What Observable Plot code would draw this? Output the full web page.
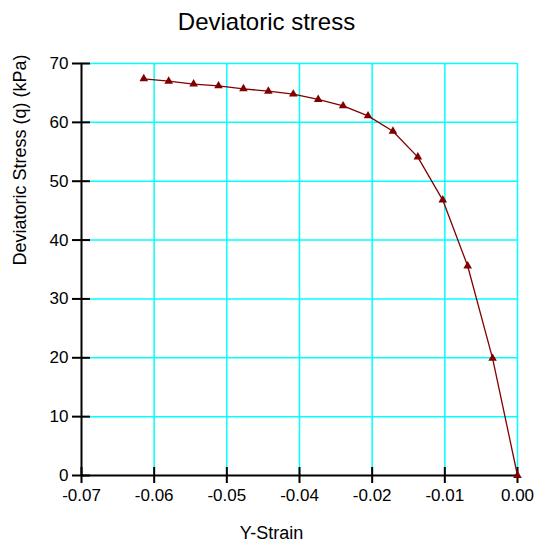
<!DOCTYPE html>
<html><head><meta charset="utf-8">
<script src="https://cdn.jsdelivr.net/npm/d3@7"></script>
<script src="https://cdn.jsdelivr.net/npm/@observablehq/plot@0.6"></script>
<style>body{margin:0;background:#fff;font-family:"Liberation Sans",Arial,sans-serif}</style>
</head><body><div id="chart"></div>
<script>
// Data
const strain = [0, -0.004, -0.008, -0.012, -0.016, -0.020, -0.024, -0.028, -0.032, -0.036, -0.040, -0.044, -0.048, -0.052, -0.056, -0.060];
const stress = [0, 19.9, 35.6, 46.8, 54.1, 58.5, 61.1, 62.8, 63.9, 64.8, 65.3, 65.7, 66.2, 66.5, 67.0, 67.4];
const xTickValues = [-0.07, -0.058333, -0.046667, -0.035, -0.023333, -0.011667, 0];
const xTickLabels = ["-0.07", "-0.06", "-0.05", "-0.04", "-0.02", "-0.01", "0.00"];
const yTickValues = [0, 10, 20, 30, 40, 50, 60, 70];
const yTickLabels = ["0", "10", "20", "30", "40", "50", "60", "70"];
const title = "Deviatoric stress";
const xLabel = "Y-Strain";
const yLabel = "Deviatoric Stress (q) (kPa)";

const data = strain.map((s, i) => ({strain: s, stress: stress[i]}));
const xTicks = xTickValues.map((v, i) => ({v, label: xTickLabels[i]}));
const yTicks = yTickValues.map((v, i) => ({v, label: yTickLabels[i]}));

const W = 535, H = 542, mL = 81, mR = 18, mT = 63, mB = 67;
const fw = W - mL - mR, fh = H - mT - mB;
const grid = "#00ffff", dark = "#800000";

const chart = Plot.plot({
  width: W, height: H,
  marginLeft: mL, marginRight: mR, marginTop: mT, marginBottom: mB,
  style: {fontFamily: "'Liberation Sans', Arial, sans-serif", background: "white", color: "black"},
  x: {domain: [-0.07, 0], axis: null},
  y: {domain: [0, 70], axis: null},
  marks: [
    Plot.ruleX(xTicks.slice(1), {x: "v", stroke: grid, strokeWidth: 1.5}),
    Plot.ruleY(yTicks.slice(1), {y: "v", stroke: grid, strokeWidth: 1.5}),
    Plot.ruleX([-0.07], {stroke: "black", strokeWidth: 2}),
    Plot.ruleY([0], {stroke: "black", strokeWidth: 2}),
    Plot.tickX(xTicks, {x: "v", stroke: "black", strokeWidth: 2, insetTop: fh - 8, insetBottom: -8}),
    Plot.tickY(yTicks, {y: "v", stroke: "black", strokeWidth: 2, insetLeft: -9, insetRight: fw - 9}),
    Plot.text(xTicks, {x: "v", text: "label", frameAnchor: "bottom", dy: 20, lineAnchor: "middle", fontSize: 17, fill: "black"}),
    Plot.text(yTicks, {y: "v", text: "label", frameAnchor: "left", dx: -13, textAnchor: "end", lineAnchor: "middle", fontSize: 17, fill: "black"}),
    Plot.line(data, {x: "strain", y: "stress", stroke: dark, strokeWidth: 1.3}),
    Plot.dot(data, {x: "strain", y: "stress", symbol: "triangle", r: 3.2, fill: dark, stroke: "none"}),
    Plot.text([title], {frameAnchor: "top", dy: -41, dx: -33, fontSize: 24, lineAnchor: "middle", fill: "black"}),
    Plot.text([xLabel], {frameAnchor: "bottom", dy: 58, dx: -28, fontSize: 18, lineAnchor: "middle", fill: "black"}),
    Plot.text([yLabel], {frameAnchor: "left", dx: -61, dy: -4, rotate: -90, fontSize: 18, lineAnchor: "middle", fill: "black"})
  ]
});
document.getElementById("chart").append(chart);
</script>
</body></html>
